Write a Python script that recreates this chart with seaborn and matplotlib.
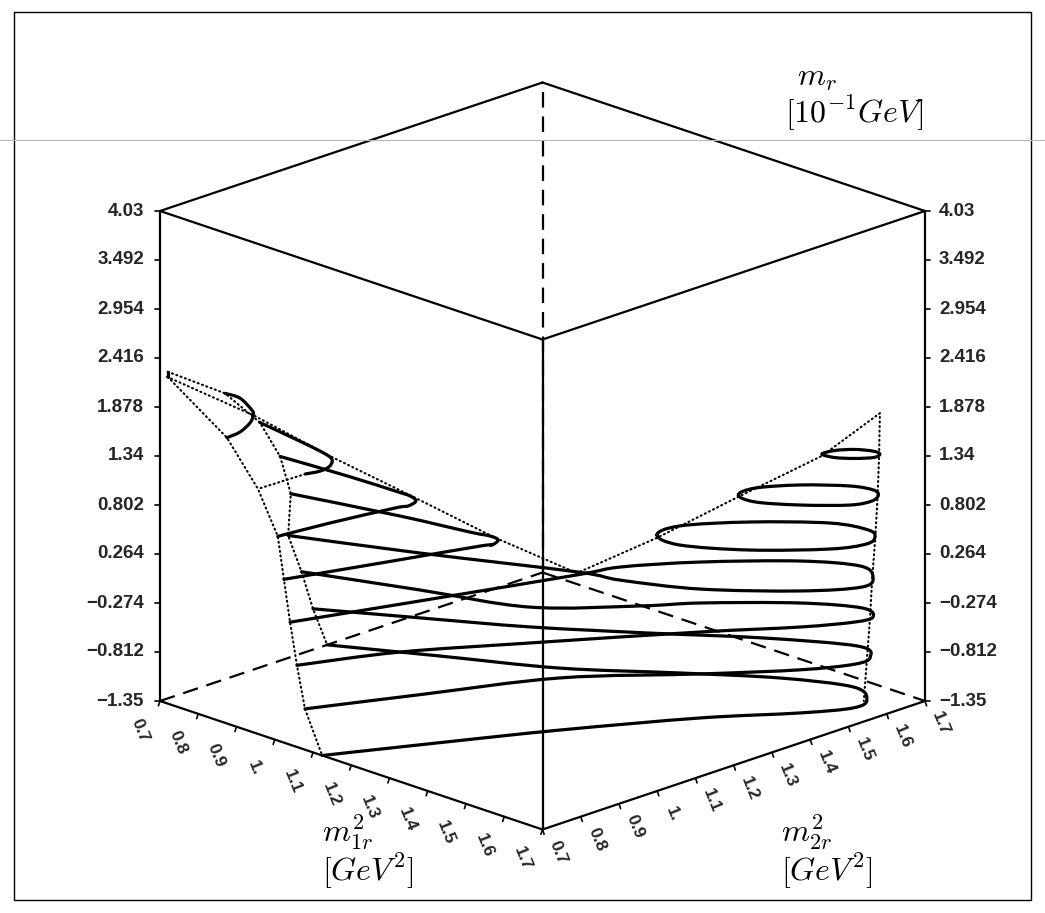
import numpy as np
import matplotlib
matplotlib.use("Agg")
import matplotlib.pyplot as plt
from matplotlib.path import Path
from matplotlib.patches import PathPatch
import seaborn as sns

sns.set_theme(style="white")
plt.rcParams["font.family"] = ["Liberation Sans", "DejaVu Sans"]
plt.rcParams["mathtext.fontset"] = "cm"

# ---- axis ranges and ticks -------------------------------------------
M_LO, M_HI = 0.7, 1.7
MR_LO, MR_HI = -1.35, 4.03

mr_ticks = [4.03, 3.492, 2.954, 2.416, 1.878, 1.34, 0.802, 0.264, -0.274, -0.812, -1.35]
mr_tick_labels = ["4.03", "3.492", "2.954", "2.416", "1.878", "1.34", "0.802",
                  "0.264", "\u22120.274", "\u22120.812", "\u22121.35"]
m_ticks = [0.7, 0.8, 0.9, 1.0, 1.1, 1.2, 1.3, 1.4, 1.5, 1.6, 1.7]
m_tick_labels = ["0.7", "0.8", "0.9", "1.", "1.1", "1.2", "1.3", "1.4", "1.5", "1.6", "1.7"]

# ---- contour heights of m_r ------------------------------------------
levels = [-1.35, -0.902, -0.453, -0.005, 0.443, 0.892, 1.340, 1.788, 2.237]

# ---- level curves (m1r^2, m2r^2) at each height ----------------------
c8_m1 = [0.700, 0.720]
c8_m2 = [0.720, 0.700]

c7_m1 = [0.700, 0.738, 0.800, 0.822, 0.848, 0.870, 0.875]
c7_m2 = [0.870, 0.871, 0.840, 0.822, 0.787, 0.739, 0.700]

c6_m1 = [0.700, 0.810, 0.896, 0.936, 0.961, 0.968, 0.960]
c6_m2 = [0.961, 0.943, 0.927, 0.913, 0.883, 0.851, 0.820]
c6_hidden_m1 = [0.960, 0.956]
c6_hidden_m2 = [0.820, 0.700]
c6r_m1 = [1.558, 1.561, 1.583, 1.613, 1.633, 1.639, 1.618, 1.588]
c6r_m2 = [1.573, 1.604, 1.634, 1.651, 1.649, 1.628, 1.599, 1.576]

c5_m1 = [0.700, 0.864, 0.985, 1.024, 1.051, 1.060, 1.051, 1.024, 1.008]
c5_m2 = [1.014, 1.026, 1.030, 1.030, 1.018, 0.988, 0.964, 0.820, 0.700]
c5r_m1 = [1.449, 1.444, 1.491, 1.560, 1.606, 1.632, 1.647, 1.634, 1.569, 1.498]
c5r_m2 = [1.463, 1.512, 1.583, 1.644, 1.659, 1.646, 1.614, 1.570, 1.505, 1.458]

c4_m1 = [0.700, 0.929, 1.083, 1.125, 1.151, 1.162, 1.151, 1.091, 1.024]
c4_m2 = [1.042, 1.098, 1.127, 1.138, 1.133, 1.105, 1.086, 0.902, 0.700]
c4r_m1 = [1.339, 1.334, 1.410, 1.519, 1.596, 1.632, 1.648, 1.620, 1.519, 1.408]
c4r_m2 = [1.360, 1.426, 1.532, 1.633, 1.656, 1.637, 1.599, 1.532, 1.423, 1.351]

# saddle level: passes through the crossing point twice
c3_m1 = [0.700, 0.941, 1.220, 1.307, 1.447, 1.585, 1.651, 1.626, 1.567, 1.469, 1.342,
         1.257, 1.231, 1.127, 1.040]
c3_m2 = [1.035, 1.139, 1.271, 1.295, 1.365, 1.488, 1.585, 1.638, 1.664, 1.605, 1.470,
         1.346, 1.259, 0.952, 0.700]

c2_m1 = [1.058, 1.141, 1.276, 1.455, 1.567, 1.619, 1.623, 1.574, 1.473, 1.343, 1.276,
         1.136, 0.926, 0.700]
c2_m2 = [0.700, 0.886, 1.092, 1.356, 1.507, 1.598, 1.641, 1.662, 1.600, 1.470, 1.380,
         1.231, 1.154, 1.070]

c1_m1 = [1.079, 1.174, 1.292, 1.460, 1.574, 1.624, 1.616, 1.557, 1.402, 1.235, 1.054,
         0.876, 0.700]
c1_m2 = [0.700, 0.906, 1.154, 1.353, 1.499, 1.594, 1.641, 1.667, 1.575, 1.446, 1.313,
         1.205, 1.100]

c0_m1 = [1.124, 1.228, 1.336, 1.472, 1.583, 1.633, 1.620, 1.552, 1.421, 1.271, 1.095,
         0.891, 0.700]
c0_m2 = [0.700, 0.904, 1.110, 1.340, 1.490, 1.579, 1.628, 1.661, 1.600, 1.489, 1.351,
         1.241, 1.137]

# ---- edges of the surface: on the m2=0.7 wall, the m1=0.7 wall, the diagonal
front_wall_m1 = [0.720, 0.875, 0.956, 1.008, 1.024, 1.040, 1.058, 1.079, 1.124]
back_wall_m2 = [0.720, 0.870, 0.961, 1.014, 1.042, 1.035, 1.070, 1.100, 1.137]
wall_mr = [2.237, 1.788, 1.340, 0.892, 0.443, -0.005, -0.453, -0.902, -1.35]
diag_m = [0.709, 0.822, 0.922, 1.031, 1.138, 1.245, 1.350, 1.456, 1.565, 1.641,
          1.640, 1.638, 1.635, 1.631, 1.628, 1.624, 1.620]
diag_mr = [2.21, 1.788, 1.34, 0.892, 0.443, 0.055, 0.443, 0.892, 1.34, 1.81,
           1.34, 0.892, 0.443, -0.005, -0.453, -0.902, -1.35]


def project(m1, m2, mr):
    """Orthographic view of the (m1r^2, m2r^2, m_r) box onto the page."""
    u = (np.asarray(m1, float) - M_LO) / (M_HI - M_LO)
    v = (np.asarray(m2, float) - M_LO) / (M_HI - M_LO)
    w = (np.asarray(mr, float) - MR_LO) / (MR_HI - MR_LO)
    x = 160 + 382.5 * (u + v)
    y = 701 + 128.5 * (u - v) - 490 * w
    return x, y


def smooth_path(x, y, closed=False):
    """Cubic Bezier path through the given vertices (Catmull-Rom tangents)."""
    pts = np.column_stack([x, y])
    n = len(pts)
    if n < 3:
        return Path(pts)
    if closed:
        ext = np.vstack([pts[-1], pts, pts[0], pts[1]])
        nseg = n
    else:
        ext = np.vstack([pts[0], pts, pts[-1]])
        nseg = n - 1
    verts = [ext[1]]
    codes = [Path.MOVETO]
    for i in range(1, nseg + 1):
        p0, p1, p2, p3 = ext[i - 1], ext[i], ext[i + 1], ext[i + 2]
        verts += [p1 + (p2 - p0) / 6.0, p2 - (p3 - p1) / 6.0, p2]
        codes += [Path.CURVE4] * 3
    return Path(np.array(verts), codes)


fig = plt.figure(figsize=(10.45, 9.13), dpi=100)
ax = fig.add_axes([0, 0, 1, 1])
ax.set_xlim(0, 1045)
ax.set_ylim(913, 0)
ax.axis("off")

INK = "black"
LW_BOX = 1.6
LW_CURVE = 2.3


def seg3(p, q, **kw):
    x, y = project([p[0], q[0]], [p[1], q[1]], [p[2], q[2]])
    ax.plot(x, y, color=INK, solid_capstyle="round", **kw)


# ---- bounding box ------------------------------------------------------
lo, hi, zlo, zhi = M_LO, M_HI, MR_LO, MR_HI
solid_edges = [
    ((lo, lo, zhi), (lo, hi, zhi)), ((lo, hi, zhi), (hi, hi, zhi)),
    ((hi, hi, zhi), (hi, lo, zhi)), ((hi, lo, zhi), (lo, lo, zhi)),
    ((lo, lo, zlo), (lo, lo, zhi)), ((hi, hi, zlo), (hi, hi, zhi)),
    ((hi, lo, zlo), (hi, lo, zhi)),
    ((lo, lo, zlo), (hi, lo, zlo)), ((hi, lo, zlo), (hi, hi, zlo)),
]
for p, q in solid_edges:
    seg3(p, q, lw=LW_BOX)
hidden_edges = [((lo, hi, zlo), (lo, hi, zhi)), ((lo, lo, zlo), (lo, hi, zlo)),
                ((lo, hi, zlo), (hi, hi, zlo))]
for p, q in hidden_edges:
    seg3(p, q, lw=LW_BOX, linestyle=(0, (7, 4)))

# ---- vertical m_r axis ticks on both front vertical edges -------------
tick_family = ["Liberation Sans", "DejaVu Sans"]
vfont = dict(fontsize=13.5, fontweight="bold", family=tick_family)
hfont = dict(fontsize=12.5, fontweight="bold", family=tick_family)
for t, lab in zip(mr_ticks, mr_tick_labels):
    xl, yl = project(lo, lo, t)
    xr, yr = project(hi, hi, t)
    ax.plot([xl - 5, xl], [yl, yl], color=INK, lw=1.2)
    ax.plot([xr, xr + 5], [yr, yr], color=INK, lw=1.2)
    ax.text(xl - 16, yl, lab, ha="right", va="center", **vfont)
    ax.text(xr + 14, yr, lab, ha="left", va="center", **vfont)

# ---- m1r^2 axis (front-left floor edge) and m2r^2 axis (front-right) --
for t, lab in zip(m_ticks, m_tick_labels):
    x1, y1 = project(t, lo, zlo)
    ax.plot([x1, x1 - 1.6], [y1, y1 + 4.8], color=INK, lw=1.2)
    ax.text(x1 - 20, y1 + 29, lab, ha="center", va="center", rotation=-68,
            rotation_mode="anchor", **hfont)
    x2, y2 = project(hi, t, zlo)
    ax.plot([x2, x2 + 1.6], [y2, y2 + 4.8], color=INK, lw=1.2)
    ax.text(x2 + 16, y2 + 23, lab, ha="center", va="center", rotation=-68,
            rotation_mode="anchor", **hfont)

# ---- axis titles -------------------------------------------------------
title_kw = dict(fontsize=23, ha="left", va="center", color=INK)
ax.text(797, 78, r"$m_r$", **title_kw)
ax.text(785, 113, r"$[10^{-1}GeV]$", **title_kw)
ax.text(322, 832, r"$m_{1r}^2$", **title_kw)
ax.text(322, 871, r"$[GeV^2]$", **title_kw)
ax.text(781, 832, r"$m_{2r}^2$", **title_kw)
ax.text(781, 871, r"$[GeV^2]$", **title_kw)

# ---- dotted edges of the surface --------------------------------------
dot_kw = dict(color=INK, lw=1.5, linestyle=(0, (0.5, 1.7)), dash_capstyle="round")
x, y = project(front_wall_m1, [lo] * len(front_wall_m1), wall_mr)
sns.lineplot(x=x, y=y, sort=False, estimator=None, ax=ax, **dot_kw)
x, y = project([lo] * len(back_wall_m2), back_wall_m2, wall_mr)
sns.lineplot(x=x, y=y, sort=False, estimator=None, ax=ax, **dot_kw)
x, y = project(diag_m, diag_m, diag_mr)
sns.lineplot(x=x, y=y, sort=False, estimator=None, ax=ax, **dot_kw)


# ---- level curves ------------------------------------------------------
def draw_level(m1, m2, k, closed=False, hidden=False):
    mr = [levels[k]] * len(m1)
    x, y = project(m1, m2, mr)
    if hidden:
        ax.plot(x, y, **dot_kw)
        return
    patch = PathPatch(smooth_path(x, y, closed), fill=False, edgecolor=INK,
                      lw=LW_CURVE, capstyle="round", joinstyle="round")
    ax.add_patch(patch)


draw_level(c8_m1, c8_m2, 8)
draw_level(c7_m1, c7_m2, 7)
draw_level(c6_m1, c6_m2, 6)
draw_level(c6_hidden_m1, c6_hidden_m2, 6, hidden=True)
draw_level(c6r_m1, c6r_m2, 6, closed=True)
draw_level(c5_m1, c5_m2, 5)
draw_level(c5r_m1, c5r_m2, 5, closed=True)
draw_level(c4_m1, c4_m2, 4)
draw_level(c4r_m1, c4r_m2, 4, closed=True)
draw_level(c3_m1, c3_m2, 3)
draw_level(c2_m1, c2_m2, 2)
draw_level(c1_m1, c1_m2, 1)
draw_level(c0_m1, c0_m2, 0)

# ---- page frame and faint rule ----------------------------------------
ax.plot([14, 1031, 1031, 14, 14], [12, 12, 900, 900, 12], color=INK, lw=1.0)
ax.plot([0, 1045], [140, 140], color="#b8b8b8", lw=0.8)

fig.savefig("out.png", dpi=100)
